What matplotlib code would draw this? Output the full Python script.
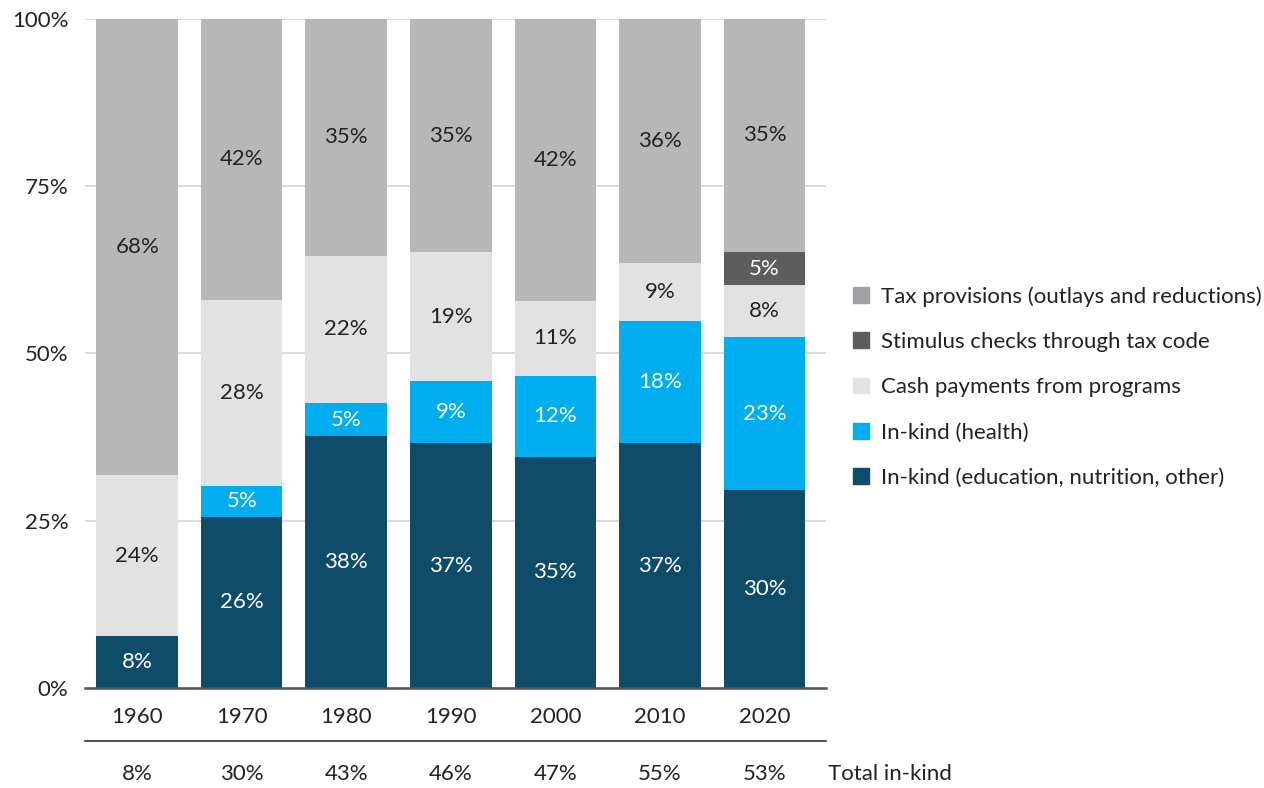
import numpy as np
import matplotlib
matplotlib.use('Agg')
import matplotlib.pyplot as plt
from matplotlib.patches import Patch
from matplotlib.transforms import blended_transform_factory

plt.rcParams['font.family'] = ['Lato', 'DejaVu Sans']

# data (shares of total, %)
years = ['1960', '1970', '1980', '1990', '2000', '2010', '2020']
inkind_other = [7.8, 25.6, 37.6, 36.6, 34.6, 36.6, 29.6]
inkind_health = [0.0, 4.6, 5.0, 9.3, 12.1, 18.2, 22.8]
cash_programs = [24.0, 27.8, 22.0, 19.2, 11.1, 8.8, 7.8]
stimulus = [0.0, 0.0, 0.0, 0.0, 0.0, 0.0, 5.0]
tax_provisions = [68.2, 42.0, 35.4, 34.9, 42.2, 36.4, 34.8]
total_inkind = ['8%', '30%', '43%', '46%', '47%', '55%', '53%']

series = [
    ('In-kind (education, nutrition, other)', inkind_other, '#0f4c6a', 'white'),
    ('In-kind (health)', inkind_health, '#00aeef', 'white'),
    ('Cash payments from programs', cash_programs, '#e2e2e2', '#222222'),
    ('Stimulus checks through tax code', stimulus, '#5e5d5e', 'white'),
    ('Tax provisions (outlays and reductions)', tax_provisions, '#b6b7b6', '#222222'),
]
legend_colors = {'Tax provisions (outlays and reductions)': '#a0a1a4'}

fig = plt.figure(figsize=(12.64, 7.88), dpi=100)
ax = fig.add_axes([0.0672, 0.1269, 0.5863, 0.849])

x = np.arange(len(years))
bottom = np.zeros(len(years))
for name, vals, color, tcolor in series:
    vals = np.array(vals)
    ax.bar(x, vals, bottom=bottom, width=0.78, color=color, zorder=2)
    for xi, b, v in zip(x, bottom, vals):
        if v > 0:
            ax.text(xi, b + v / 2, '%d%%' % round(v), ha='center', va='center',
                    color=tcolor, fontsize=16, zorder=3)
    bottom += vals

ax.set_xlim(-0.5, 6.59)
ax.set_ylim(0, 100)
ax.set_yticks([0, 25, 50, 75, 100])
ax.set_yticklabels(['0%', '25%', '50%', '75%', '100%'])
ax.yaxis.grid(True, color='#d4d4d4', linewidth=1.2, zorder=0)
ax.set_axisbelow(True)
ax.set_xticks(x)
ax.set_xticklabels(years)
ax.tick_params(length=0, labelsize=16, colors='#222222')
ax.tick_params(axis='x', pad=14)
ax.tick_params(axis='y', pad=12)
for s in ['top', 'right', 'left']:
    ax.spines[s].set_visible(False)
ax.spines['bottom'].set_color('#555555')
ax.spines['bottom'].set_linewidth(1.8)
ax.spines['bottom'].set_zorder(4)

# separator line and totals row
ax.plot([0, 1], [-0.0792, -0.0792], transform=ax.transAxes, color='#333333',
        linewidth=1.2, clip_on=False)
trans = blended_transform_factory(ax.transData, ax.transAxes)
for xi, t in zip(x, total_inkind):
    ax.text(xi, -0.128, t, transform=trans, ha='center', va='center',
            fontsize=16, color='#222222')
ax.text(1.003, -0.128, 'Total in-kind', transform=ax.transAxes, ha='left',
        va='center', fontsize=16, color='#222222')

handles = [Patch(color=legend_colors.get(n, c), label=n) for n, v, c, tc in series[::-1]]
ax.legend(handles=handles, loc='center left', bbox_to_anchor=(1.010, 0.450),
          frameon=False, fontsize=16, handlelength=0.7, handleheight=0.7,
          handletextpad=0.55, labelspacing=1.14, labelcolor='#222222')

fig.savefig('out.png', dpi=100)
